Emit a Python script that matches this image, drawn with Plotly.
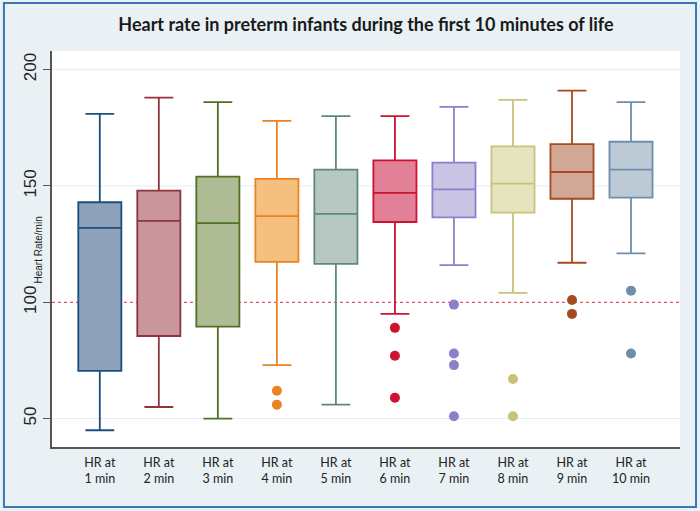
import plotly.graph_objects as go

categories = ["HR at<br>1 min", "HR at<br>2 min", "HR at<br>3 min", "HR at<br>4 min", "HR at<br>5 min",
              "HR at<br>6 min", "HR at<br>7 min", "HR at<br>8 min", "HR at<br>9 min", "HR at<br>10 min"]
lower_whisker = [45, 55, 50, 73, 56, 95, 116, 104, 117, 121]
q1_values = [70.5, 85.5, 89.5, 117.4, 116.5, 134.5, 136.5, 138.5, 144.5, 145]
median_values = [132, 135, 134, 137, 138, 147, 148.5, 151, 156, 157]
q3_values = [143, 148, 154, 153, 157, 161, 160, 167, 168, 169]
upper_whisker = [181, 188, 186, 178, 180, 180, 184, 187, 191, 186]
outliers = [[], [], [], [62, 56], [], [89, 77, 59], [99, 78, 73, 51], [67, 51], [101, 95], [105, 78]]

line_colors = ["#1b4f80", "#90353f", "#4e7126", "#ec8323", "#5b8a7a",
               "#cc1430", "#8c80cc", "#c9c27a", "#a64a1f", "#6f8eac"]
fill_colors = ["#8da2b8", "#c9979b", "#aebb94", "#f5c07f", "#b7c8c3",
               "#e18096", "#c9c4e4", "#e6e3bf", "#d1a895", "#bccad6"]

title_text = "Heart rate in preterm infants during the first 10 minutes of life"
y_title = "Heart Rate/min"
y_ticks = [50, 100, 150, 200]
grid_values = [50, 150, 200]
reference_line = 100

fig = go.Figure()
for i, cat in enumerate(categories):
    fig.add_trace(go.Box(
        x=[cat], q1=[q1_values[i]], median=[median_values[i]], q3=[q3_values[i]],
        lowerfence=[lower_whisker[i]], upperfence=[upper_whisker[i]],
        width=0.73, whiskerwidth=0.67, boxpoints=False,
        line=dict(color=line_colors[i], width=1.8), fillcolor=fill_colors[i],
        showlegend=False, hoverinfo="skip",
    ))
    if outliers[i]:
        fig.add_trace(go.Scatter(
            x=[cat] * len(outliers[i]), y=outliers[i], mode="markers",
            marker=dict(color=line_colors[i], size=10), showlegend=False, hoverinfo="skip",
        ))

for g in grid_values:
    fig.add_shape(type="line", xref="paper", yref="y", x0=0, x1=1, y0=g, y1=g,
                  line=dict(color="#e3ecf3", width=1), layer="below")

fig.add_shape(type="line", xref="paper", yref="y", x0=0, x1=1, y0=reference_line, y1=reference_line,
              line=dict(color="#e05a66", width=1.2, dash="dot"), layer="below")

# outer frame
fig.add_shape(type="rect", xref="paper", yref="paper", x0=-0.0765, x1=1.0255, y0=-0.1515, y1=1.1212,
              line=dict(color="#3a78b5", width=2), fillcolor="rgba(0,0,0,0)", layer="above")

fig.add_annotation(text=y_title, xref="paper", yref="paper", x=-0.0334, y=0.4975,
                   textangle=-90, showarrow=False, font=dict(family="Liberation Sans", size=10, color="#222"))

fig.update_layout(
    width=700, height=511,
    margin=dict(l=52, r=20, t=51, b=64, autoexpand=False),
    paper_bgcolor="#e9f1f5", plot_bgcolor="rgba(0,0,0,0)",
    boxmode="overlay",
    title=dict(text=title_text, xref="paper", x=0.5, xanchor="center", y=0.951, yanchor="middle",
               font=dict(family="Lato", size=18, color="#1a1a1a", weight="bold"), automargin=False),
    xaxis=dict(type="category", range=[-0.81, 9.83], showgrid=False, ticks="outside", ticklen=3,
               tickcolor="rgba(0,0,0,0)", automargin=False,
               showline=True, linecolor="#555555", linewidth=1.5,
               tickfont=dict(family="Lato", size=12.5, color="#222"), fixedrange=True),
    yaxis=dict(range=[37.8, 208], tickvals=y_ticks, ticks="outside", ticklen=7, tickcolor="#555555",
               automargin=False,
               tickwidth=1.2, showline=True, linecolor="#555555", linewidth=1.5,
               showgrid=False, zeroline=False,
               tickangle=-90, tickfont=dict(family="Liberation Sans", size=17, color="#222")),
)
# white plot area drawn as the lowest shape
fig.add_shape(type="rect", xref="paper", yref="paper", x0=0, x1=1, y0=0, y1=1,
              line=dict(width=0), fillcolor="white", layer="below")
shapes = list(fig.layout.shapes)
fig.layout.shapes = [shapes[-1]] + shapes[:-1]

fig.write_html("out.html", config={"displayModeBar": False},
               post_script="document.body.style.margin='0px';document.body.style.overflow='hidden';")
